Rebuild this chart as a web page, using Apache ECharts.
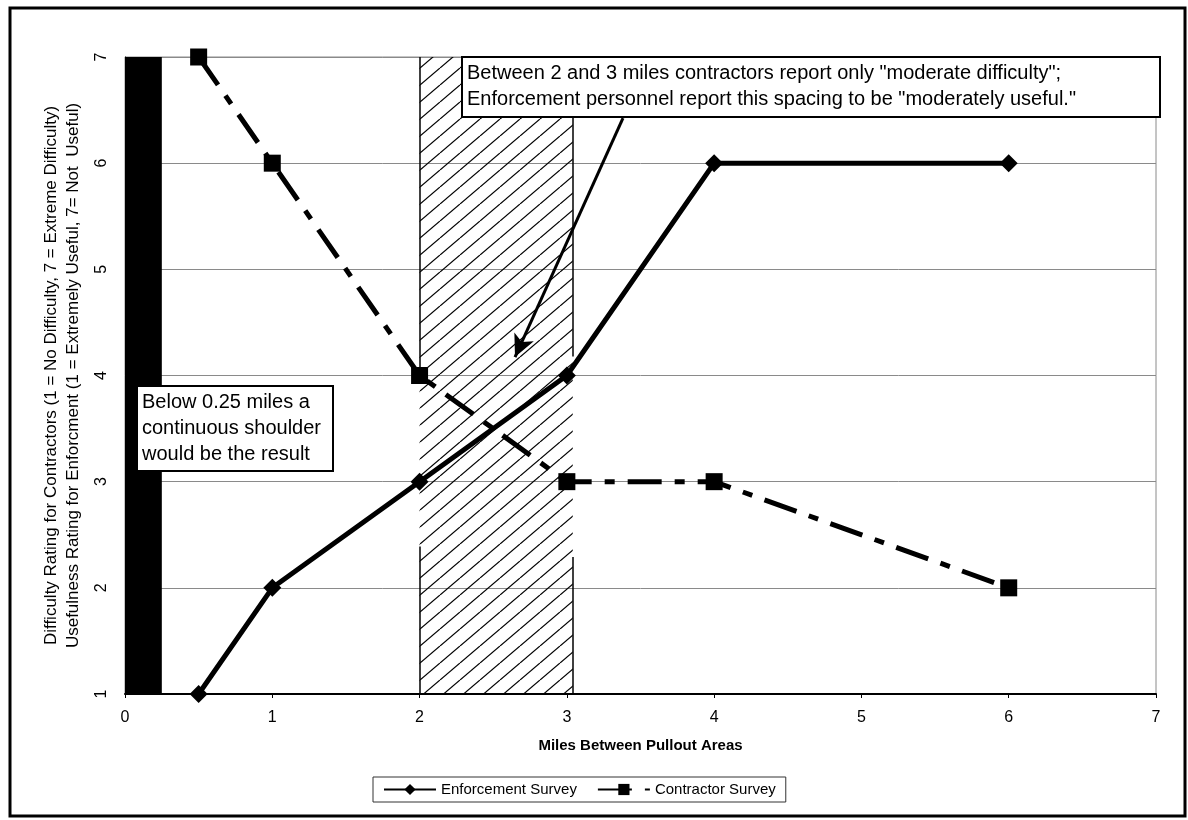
<!DOCTYPE html>
<html>
<head>
<meta charset="utf-8">
<script src="https://cdn.jsdelivr.net/npm/echarts@6/dist/echarts.min.js"></script>
<style>
  html, body { margin: 0; padding: 0; background: #fff; }
  #chart { width: 1188px; height: 820px; }
</style>
</head>
<body>
<div id="chart"></div>
<script>
// Survey ratings by spacing between pullout areas (miles)
const miles = [0.5, 1, 2, 3, 4, 6];
const enforcementSurvey = [1, 2, 3, 4, 6, 6];
const contractorSurvey = [7, 6, 4, 3, 3, 2];
const seriesNames = ['Enforcement Survey', 'Contractor Survey'];

// Shaded ranges on the miles axis
const continuousShoulder = [0, 0.25];
const moderateBand = [2, 3.04];
// Visible runs of the band outline: [x, yFrom, yTo]
const bandEdges = [[2, 7, 4], [2, 2.39, 1], [3.04, 7, 4.18], [3.04, 2.29, 1]];
// Callout arrow from the note box down into the band: [x, y] start, end
const calloutArrow = [[3.381, 6.425], [2.648, 4.174]];

const noteShoulder = 'Below 0.25 miles a\ncontinuous shoulder\nwould be the result';
const noteBand = 'Between 2 and 3 miles contractors report only "moderate difficulty";\n' +
                 'Enforcement personnel report this spacing to be "moderately useful."';

const yTitle = 'Difficulty Rating for Contractors (1 = No Difficulty, 7 = Extreme Difficulty)\n' +
               'Usefulness Rating for Enforcment (1 = Extremely Useful, 7= Not  Useful)';
const xTitle = 'Miles Between Pullout Areas';

const FONT = '"Liberation Sans", Arial, sans-serif';

// Diagonal hatch tile for the 2-3 mile band
const tile = document.createElement('canvas');
tile.width = 20; tile.height = 17;
const tctx = tile.getContext('2d');
tctx.strokeStyle = '#000';
tctx.lineWidth = 1.2;
for (let k = -1; k <= 1; k++) {
  tctx.beginPath();
  tctx.moveTo(k * 20, 17);
  tctx.lineTo(20 + k * 20, 0);
  tctx.stroke();
}

const chart = echarts.init(document.getElementById('chart'), null, { renderer: 'canvas' });

// A white note box with a black frame and left-aligned text
function noteBox(left, top, width, height, text) {
  return [
    { type: 'rect', zlevel: 1, z: 100, silent: true,
      shape: { x: left, y: top, width: width, height: height },
      style: { fill: '#fff', stroke: '#000', lineWidth: 2 } },
    { type: 'text', zlevel: 1, z: 101, silent: true, x: left + 5, y: top + 3,
      style: { text: text, font: '20px ' + FONT, fill: '#000', lineHeight: 26, verticalAlign: 'top' } }
  ];
}

const option = {
  backgroundColor: '#fff',
  animation: false,
  textStyle: { fontFamily: FONT },
  grid: {
    left: 125, right: 32, top: 57, bottom: 126,
    show: true, borderColor: '#8a8a8a', borderWidth: 1, backgroundColor: 'transparent'
  },
  xAxis: {
    type: 'value', min: 0, max: 7, interval: 1,
    name: xTitle, nameLocation: 'middle', nameGap: 44,
    nameTextStyle: { fontSize: 15, fontWeight: 'bold', color: '#000', fontFamily: FONT },
    axisLine: { show: true, lineStyle: { color: '#000', width: 2 } },
    axisTick: { show: true, length: 4, lineStyle: { color: '#000' } },
    axisLabel: { fontSize: 16, color: '#000', margin: 16, fontFamily: FONT },
    splitLine: { show: false }
  },
  yAxis: {
    type: 'value', min: 1, max: 7, interval: 1,
    name: yTitle, nameLocation: 'middle', nameGap: 41, nameRotate: 90,
    nameTextStyle: { fontSize: 17, color: '#000', lineHeight: 22, fontFamily: FONT, align: 'center' },
    axisLine: { show: true, lineStyle: { color: '#000', width: 1 } },
    axisTick: { show: false },
    axisLabel: { fontSize: 16, color: '#000', rotate: 90, margin: 15, fontFamily: FONT },
    splitLine: { show: true, lineStyle: { color: '#8a8a8a', width: 1 } }
  },
  legend: {
    data: seriesNames,
    left: 373, top: 777,
    padding: [5, 10],
    itemWidth: 52, itemHeight: 14, itemGap: 20,
    borderColor: '#333', borderWidth: 1, borderRadius: 0,
    backgroundColor: '#fff',
    textStyle: { fontSize: 15, color: '#000', fontFamily: FONT }
  },
  series: [
    {
      name: 'bands', type: 'line', data: [], z: 1, silent: true,
      markArea: {
        silent: true,
        label: { show: false },
        data: [
          [{ xAxis: continuousShoulder[0], yAxis: 1, itemStyle: { color: '#000' } },
           { xAxis: continuousShoulder[1], yAxis: 7 }],
          [{ xAxis: moderateBand[0], yAxis: 1, itemStyle: { color: { image: tile, repeat: 'repeat' } } },
           { xAxis: moderateBand[1], yAxis: 7 }]
        ]
      },
      markLine: {
        silent: true, symbol: 'none', label: { show: false },
        lineStyle: { color: '#000', width: 1.5, type: 'solid' },
        data: bandEdges.map(e => [{ coord: [e[0], e[1]] }, { coord: [e[0], e[2]] }])
      }
    },
    {
      name: seriesNames[0], type: 'line', z: 3,
      data: miles.map((m, i) => [m, enforcementSurvey[i]]),
      symbol: 'diamond', symbolSize: 18,
      lineStyle: { color: '#000', width: 5 },
      itemStyle: { color: '#000' }
    },
    {
      name: seriesNames[1], type: 'line', z: 3,
      data: miles.map((m, i) => [m, contractorSurvey[i]]),
      symbol: 'rect', symbolSize: 17,
      lineStyle: { color: '#000', width: 5, type: [34, 13, 10, 13], cap: 'butt' },
      itemStyle: { color: '#000' }
    },
    {
      name: 'callout', type: 'line', data: [], z: 6, silent: true,
      markLine: {
        silent: true, symbol: ['none', 'arrow'], symbolSize: [16, 22],
        label: { show: false },
        lineStyle: { color: '#000', width: 3, type: 'solid', opacity: 1 },
        emphasis: { disabled: true },
        data: [[
          { coord: calloutArrow[0], lineStyle: { width: 3, color: '#000' } },
          { coord: calloutArrow[1] }
        ]]
      }
    }
  ],
  graphic: [
    ...noteBox(137, 386, 196, 85, noteShoulder),
    ...noteBox(462, 57, 698, 60, noteBand),
    {
      type: 'rect', zlevel: 1, z: 110, silent: true,
      shape: { x: 10, y: 8, width: 1175, height: 808 },
      style: { fill: 'none', stroke: '#000', lineWidth: 3 }
    }
  ]
};

chart.setOption(option);
</script>
</body>
</html>
